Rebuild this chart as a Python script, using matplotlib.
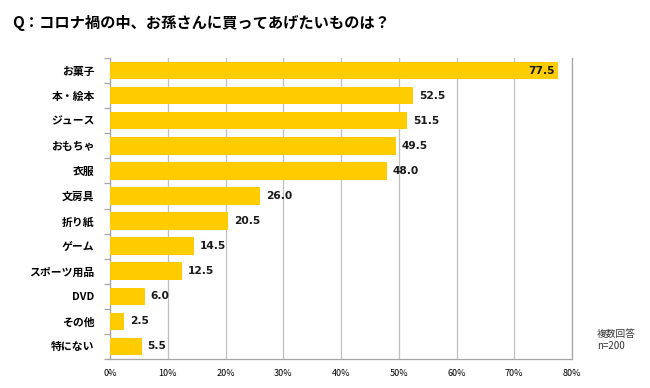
import matplotlib
matplotlib.use("Agg")
import matplotlib.pyplot as plt
import numpy as np

plt.rcParams['font.family'] = ['Noto Sans CJK JP', 'DejaVu Sans']

categories = ["お菓子", "本・絵本", "ジュース", "おもちゃ", "衣服", "文房具", "折り紙",
              "ゲーム", "スポーツ用品", "DVD", "その他", "特にない"]
values = [77.5, 52.5, 51.5, 49.5, 48.0, 26.0, 20.5, 14.5, 12.5, 6.0, 2.5, 5.5]
xticks = [0, 10, 20, 30, 40, 50, 60, 70, 80]
xticklabels = ["0%", "10%", "20%", "30%", "40%", "50%", "60%", "70%", "80%"]
title = "Q：コロナ禍の中、お孫さんに買ってあげたいものは？"
note = "複数回答\nn=200"

fig = plt.figure(figsize=(6.5, 3.88), dpi=100)
ax = fig.add_axes([110/650, 1-359/388, (572-110)/650, (359-58)/388])

n = len(categories)
y = np.arange(n)
ax.barh(y, values, height=0.7, color="#FFCC00", zorder=3)
ax.set_ylim(n-0.5, -0.5)
ax.set_xlim(0, 80)

ax.set_xticks(xticks)
ax.set_xticklabels(xticklabels, fontsize=6.5)
ax.tick_params(axis='x', length=0, pad=7)
ax.xaxis.grid(True, color="#BFBFBF", linewidth=0.9, zorder=0)

ax.set_yticks(y)
ax.set_yticklabels(categories, fontsize=7.8, fontweight='bold')
ax.tick_params(axis='y', length=0, pad=11)
ax.set_yticks(np.arange(n+1)-0.5, minor=True)
ax.tick_params(axis='y', which='minor', length=4, color="#A6A6A6", width=0.9)

for s in ['left', 'right', 'bottom']:
    ax.spines[s].set_color("#A6A6A6")
    ax.spines[s].set_linewidth(0.9)
ax.spines['top'].set_visible(False)

for i, v in enumerate(values):
    if v > 70:
        ax.text(v - 0.5, i, f"{v:.1f}", ha='right', va='center', fontsize=7.7,
                fontweight='bold', color="#1a1a1a", zorder=4, family='DejaVu Sans')
    else:
        ax.text(v + 1.0, i, f"{v:.1f}", ha='left', va='center', fontsize=7.7,
                fontweight='bold', color="#1a1a1a", zorder=4, family='DejaVu Sans')

fig.text(12/650, 1-23/388, title, fontsize=11, fontweight='bold', ha='left', va='center')
fig.text(597/650, 1-340/388, note, fontsize=7, ha='left', va='center', color="#333333",
         linespacing=1.25)

fig.savefig("out.png", dpi=100)
